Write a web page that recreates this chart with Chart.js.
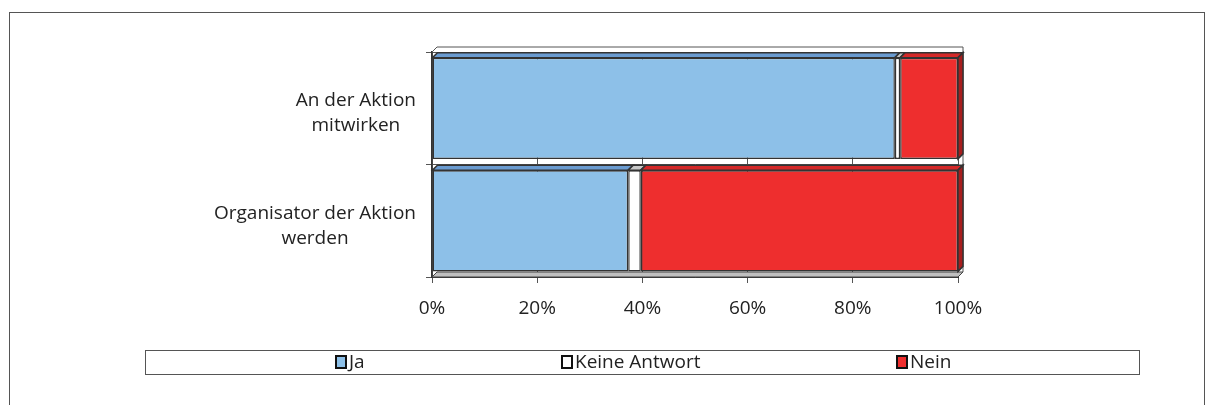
<!DOCTYPE html>
<html>
<head>
<meta charset="utf-8">
<script src="https://cdn.jsdelivr.net/npm/chart.js@4"></script>
<style>
  html, body { margin: 0; padding: 0; background: #fff; }
  #wrap { position: relative; width: 1208px; height: 405px; }
</style>
</head>
<body>
<div id="wrap"><canvas id="myChart" width="1208" height="405"></canvas></div>
<script>
// Daten aus der Grafik (Anteile in %)
const categories = [['An der Aktion', 'mitwirken'], ['Organisator der Aktion', 'werden']];
const seriesNames = ['Ja', 'Keine Antwort', 'Nein'];
const jaValues = [88, 37.3];
const keineValues = [1, 2.4];
const neinValues = [11, 60.3];
const tickValues = [0, 20, 40, 60, 80, 100];

const fillColors = ['#8dc0e8', '#ffffff', '#ee2e2e'];
const topColors = ['#6a9bd0', '#c8c8c8', '#d42828'];
const sideColor = '#a81e1e';
const depth = 5;
const fontFamily = '"Open Sans", "Liberation Sans", sans-serif';

// 3D-Flächen, Kategorienbeschriftung, Rahmen und Legende
const decoPlugin = {
  id: 'deco',
  beforeDatasetsDraw(chart) {
    const ctx = chart.ctx;
    const a = chart.chartArea;
    ctx.save();
    // Rückwand-Oberkante
    ctx.beginPath();
    ctx.moveTo(a.left, a.top);
    ctx.lineTo(a.left + depth, a.top - depth);
    ctx.lineTo(a.right + depth, a.top - depth);
    ctx.lineTo(a.right + depth, a.bottom - depth);
    ctx.strokeStyle = '#555';
    ctx.lineWidth = 1;
    ctx.stroke();
    // Boden
    ctx.beginPath();
    ctx.moveTo(a.left, a.bottom);
    ctx.lineTo(a.right, a.bottom);
    ctx.lineTo(a.right + depth, a.bottom - depth);
    ctx.lineTo(a.left + depth, a.bottom - depth);
    ctx.closePath();
    ctx.fillStyle = '#c0c0c0';
    ctx.fill();
    ctx.strokeStyle = '#444';
    ctx.stroke();
    ctx.restore();
  },
  afterDatasetsDraw(chart) {
    const ctx = chart.ctx;
    ctx.save();
    ctx.lineWidth = 1.5;
    ctx.strokeStyle = '#333';
    chart.data.datasets.forEach((ds, i) => {
      const meta = chart.getDatasetMeta(i);
      meta.data.forEach(bar => {
        const p = bar.getProps(['x', 'y', 'base', 'height'], true);
        const top = p.y - p.height / 2;
        const bottom = p.y + p.height / 2;
        const x0 = Math.min(p.base, p.x);
        const x1 = Math.max(p.base, p.x);
        if (x1 - x0 < 0.1) return;
        // Oberseite
        ctx.beginPath();
        ctx.moveTo(x0, top);
        ctx.lineTo(x0 + depth, top - depth);
        ctx.lineTo(x1 + depth, top - depth);
        ctx.lineTo(x1, top);
        ctx.closePath();
        ctx.fillStyle = topColors[i];
        ctx.fill();
        ctx.stroke();
        // rechte Seite nur beim letzten Segment
        if (i === chart.data.datasets.length - 1) {
          ctx.beginPath();
          ctx.moveTo(x1, top);
          ctx.lineTo(x1 + depth, top - depth);
          ctx.lineTo(x1 + depth, bottom - depth);
          ctx.lineTo(x1, bottom);
          ctx.closePath();
          ctx.fillStyle = sideColor;
          ctx.fill();
          ctx.stroke();
        }
      });
    });
    ctx.restore();
  },
  afterDraw(chart) {
    const ctx = chart.ctx;
    const yScale = chart.scales.y;
    ctx.save();
    // Kategorien: jede Beschriftung in sich zentriert
    ctx.font = '19px ' + fontFamily;
    ctx.fillStyle = '#222';
    ctx.textAlign = 'center';
    ctx.textBaseline = 'middle';
    const rightEdge = chart.chartArea.left - 16;
    chart.data.labels.forEach((lines, i) => {
      const widest = Math.max(...lines.map(l => ctx.measureText(l).width));
      const cx = rightEdge - widest / 2;
      const cy = yScale.getPixelForTick(i) + 5;
      const lh = 25;
      lines.forEach((l, k) => {
        ctx.fillText(l, cx, cy + (k - (lines.length - 1) / 2) * lh);
      });
    });
    // äußerer Rahmen
    ctx.strokeStyle = '#555';
    ctx.lineWidth = 1;
    ctx.strokeRect(9.5, 12.5, 1195, 420);
    // Legendenkasten
    ctx.strokeRect(145.5, 350.5, 994, 24);
    const itemX = [336, 562, 897];
    ctx.font = '19px ' + fontFamily;
    ctx.textAlign = 'left';
    chart.data.datasets.forEach((ds, i) => {
      const x = itemX[i];
      ctx.fillStyle = ds.backgroundColor;
      ctx.fillRect(x, 356, 10, 12);
      ctx.lineWidth = 2;
      ctx.strokeStyle = '#111';
      ctx.strokeRect(x, 356, 10, 12);
      ctx.fillStyle = '#222';
      ctx.fillText(ds.label, x + 13, 363);
    });
    ctx.restore();
  }
};

const dataChart = {
  labels: categories,
  datasets: [
    { label: seriesNames[0], data: jaValues, backgroundColor: fillColors[0] },
    { label: seriesNames[1], data: keineValues, backgroundColor: fillColors[1] },
    { label: seriesNames[2], data: neinValues, backgroundColor: fillColors[2] }
  ].map(ds => Object.assign(ds, {
    borderColor: '#333',
    borderWidth: 1.5,
    borderSkipped: false,
    barPercentage: 0.9,
    categoryPercentage: 1.0
  }))
};

const options = {
  indexAxis: 'y',
  responsive: false,
  animation: false,
  maintainAspectRatio: false,
  layout: { padding: { left: 0, right: 250, top: 52, bottom: 78 } },
  plugins: {
    legend: { display: false },
    tooltip: { enabled: false }
  },
  scales: {
    x: {
      stacked: true,
      min: 0,
      max: 100,
      afterBuildTicks: scale => { scale.ticks = tickValues.map(v => ({ value: v })); },
      afterFit: scale => { scale.height = 50; },
      grid: { color: '#555', lineWidth: 1, tickLength: 6, drawOnChartArea: true },
      border: { color: '#333', width: 1 },
      ticks: {
        padding: 14,
        color: '#222',
        font: { size: 19, family: fontFamily },
        callback: v => v + '%'
      }
    },
    y: {
      stacked: true,
      afterFit: scale => { scale.width = 432; },
      grid: { color: '#555', lineWidth: 1, tickLength: 6, offset: true },
      border: { color: '#333', width: 1.5 },
      ticks: { display: false }
    }
  }
};

const ctx = document.getElementById('myChart').getContext('2d');
const myChart = new Chart(ctx, {
  type: 'bar',
  data: dataChart,
  options: options,
  plugins: [decoPlugin]
});
</script>
</body>
</html>
